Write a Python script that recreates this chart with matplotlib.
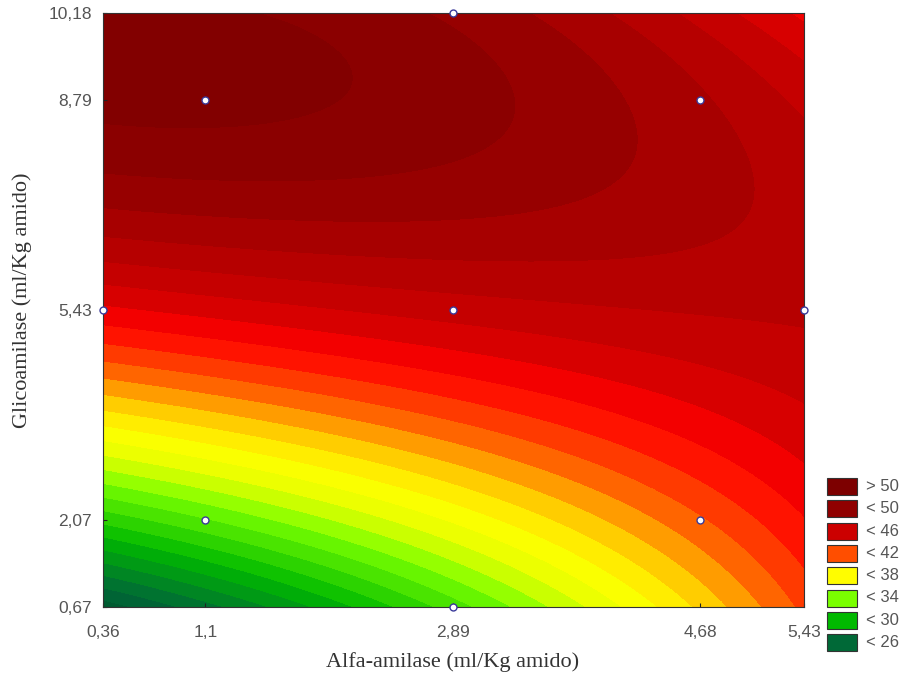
import numpy as np
import matplotlib
matplotlib.use("Agg")
import matplotlib.pyplot as plt
from matplotlib.colors import LinearSegmentedColormap, Normalize
from matplotlib.patches import Rectangle

# Tick positions (design levels)
x_ticks = [0.36, 1.1, 2.89, 4.68, 5.43]
y_ticks = [0.67, 2.07, 5.43, 8.79, 10.18]
x_tick_labels = ["0,36", "1,1", "2,89", "4,68", "5,43"]
y_tick_labels = ["0,67", "2,07", "5,43", "8,79", "10,18"]

# Response values (rows: read_y, cols: read_x)
read_x = [0.36, 1.1, 2.89, 4.68, 5.43]
read_y = [0.67, 2.07, 3.75, 5.43, 7.11, 8.79, 10.18]
z_read = [
    [24.5, 27.5, 31.5, 40.0, 41.5],   # y = 0.67
    [31.0, 32.5, 37.5, 42.5, 44.0],   # y = 2.07
    [38.8, 39.4, 42.0, 44.5, 45.5],   # y = 3.75
    [44.2, 45.0, 46.5, 47.5, 48.0],   # y = 5.43
    [50.2, 50.2, 49.5, 48.3, 47.3],   # y = 7.11
    [51.0, 51.0, 50.3, 47.0, 46.3],   # y = 8.79
    [51.0, 51.0, 50.3, 46.5, 45.5],   # y = 10.18
]

# Experimental design points
design_x = [0.36, 1.1, 1.1, 2.89, 2.89, 2.89, 4.68, 4.68, 5.43]
design_y = [5.43, 2.07, 8.79, 0.67, 5.43, 10.18, 2.07, 8.79, 5.43]

# Legend entries
legend_labels = ["> 50", "< 50", "< 46", "< 42", "< 38", "< 34", "< 30", "< 26"]
legend_values = [52, 50, 46, 42, 38, 34, 30, 26]

# Colour scale anchors
anchor_vals = [22, 26, 30, 34, 36, 38, 39.5, 41, 42, 44, 46, 50, 53]
anchor_cols = [(0, 70, 40), (0, 105, 55), (0, 185, 0), (120, 255, 0), (230, 255, 0),
               (255, 255, 0), (255, 205, 0), (255, 130, 0), (255, 80, 0), (255, 0, 0),
               (205, 0, 0), (145, 0, 0), (115, 0, 0)]

vmin, vmax = anchor_vals[0], anchor_vals[-1]
cmap = LinearSegmentedColormap.from_list(
    "stat",
    [((v - vmin) / (vmax - vmin), tuple(c / 255 for c in col)) for v, col in zip(anchor_vals, anchor_cols)],
)
norm = Normalize(vmin=vmin, vmax=vmax)

# Smooth surface: cubic least-squares fit through the read values
gx, gy = np.meshgrid(read_x, read_y)
px, py, pz = gx.ravel(), gy.ravel(), np.array(z_read).ravel()

def terms(x, y):
    return np.stack([np.ones_like(x), x, y, x * x, x * y, y * y,
                     x ** 3, x * x * y, x * y * y, y ** 3], axis=-1)

coef, *_ = np.linalg.lstsq(terms(px, py), pz, rcond=None)
xs = np.linspace(x_ticks[0], x_ticks[-1], 300)
ys = np.linspace(y_ticks[0], y_ticks[-1], 300)
XX, YY = np.meshgrid(xs, ys)
ZZ = terms(XX, YY) @ coef

W, H = 910, 680
fig = plt.figure(figsize=(W / 100, H / 100), dpi=100)
ax = fig.add_axes([103 / W, 73 / H, 701 / W, 594 / H])
levels = np.arange(20, 56, 1)
ax.contourf(XX, YY, ZZ, levels=levels, cmap=cmap, norm=norm, extend="both")
ax.plot(design_x, design_y, "o", ms=5, mfc="white", mec="#3a3a9a", mew=1.0, clip_on=False, zorder=5)

ax.set_xlim(x_ticks[0], x_ticks[-1])
ax.set_ylim(y_ticks[0], y_ticks[-1])
ax.set_xticks(x_ticks)
ax.set_xticklabels(x_tick_labels)
ax.set_yticks(y_ticks)
ax.set_yticklabels(y_tick_labels)
ax.tick_params(direction="in", length=3, labelsize=12.5, colors="#222222", labelcolor="#555555")
ax.tick_params(axis="x", pad=13)
ax.tick_params(axis="y", pad=8)
for lab in ax.get_xticklabels() + ax.get_yticklabels():
    lab.set_family("Liberation Sans")
for s in ax.spines.values():
    s.set_linewidth(0.8)
    s.set_color("#333333")

fig.text(453 / W, 1 - 662 / H, "Alfa-amilase (ml/Kg amido)", family="Liberation Serif",
         fontsize=16, color="#333333", ha="center", va="center")
fig.text(22 / W, 1 - 300 / H, "Glicoamilase (ml/Kg amido)", family="Liberation Serif",
         fontsize=16, color="#333333", ha="center", va="center", rotation=90)

# Legend drawn in pixel positions
for i, (lab, v) in enumerate(zip(legend_labels, legend_values)):
    top = 478 + 22.3 * i
    fig.add_artist(Rectangle((827 / W, 1 - (top + 17) / H), 30 / W, 17 / H,
                             transform=fig.transFigure, facecolor=cmap(norm(v)),
                             edgecolor="#333333", linewidth=0.8))
    fig.text(866 / W, 1 - (top + 8.5) / H, lab, family="Liberation Sans", fontsize=12,
             color="#555555", ha="left", va="center")

fig.savefig("out.png", dpi=100)
